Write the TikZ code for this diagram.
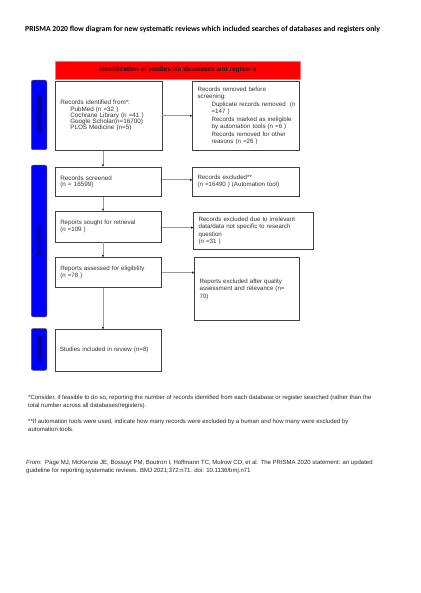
\documentclass[tikz,border=0pt]{standalone}
\usepackage{fontspec}
\setmainfont{Liberation Sans}
\newfontfamily\titlefont{Carlito}
\usetikzlibrary{arrows.meta}
\newcommand\indA[1]{\hspace*{10pt}\mbox{#1}}
\newcommand\indB[1]{\hspace*{14pt}\mbox{#1}}
\begin{document}
\begin{tikzpicture}[x=1pt,y=-1pt,
  box/.style={draw=black!75, line width=0.6pt, align=left, inner xsep=5pt, inner ysep=0pt,
    anchor=north west, font=\fontsize{6.15}{7.5}\selectfont, text=black!80},
  tightbox/.style={box, font=\fontsize{6.3}{6.25}\selectfont},
  bar/.style={draw=black!70, fill=blue, rounded corners=2pt, line width=0.5pt,
    anchor=north west, minimum width=15.7pt, inner sep=0pt},
  barlabel/.style={rotate=90, text=blue!25!black, font=\bfseries\fontsize{6.3}{7}\selectfont, inner sep=0pt},
  foot/.style={anchor=north west, align=left, inner sep=0pt, text=black!85,
    font=\fontsize{6.0}{7.7}\selectfont},
  arr/.style={draw=black!40, line width=0.8pt, -{Triangle[length=2.2pt,width=2.2pt,color=black!80]}}
]
\useasboundingbox[fill=white] (0,0) rectangle (420,593);

% title
\node[anchor=base west, inner sep=0pt, font=\titlefont\bfseries\fontsize{7.7}{8}\selectfont] (title) at (25,32)
  {PRISMA 2020 flow diagram for new systematic reviews which included searches of databases and registers only};

% header
\node[draw=red!55!white, fill=red, line width=0.6pt, anchor=north west, minimum width=245pt, minimum height=18.3pt,
  inner sep=0pt, text=black!90, font=\bfseries\fontsize{6.4}{7}\selectfont] (head) at (55,60.7)
  {Identification of studies via databases and registers};

% side bars
\node[bar, minimum height=69.5pt] (ibar) at (31,80) {};
\node[barlabel] (ilab) at (ibar.center) {Identification};
\node[bar, minimum height=151.7pt] (sbar) at (31,165) {};
\node[barlabel] (slab) at (sbar.center) {Screening};
\node[bar, minimum height=41.7pt] (nbar) at (31,328.3) {};
\node[barlabel] (nlab) at (nbar.center) {Included};

% boxes
\node[tightbox, minimum width=106.5pt, minimum height=69pt, text width=96.5pt] (ident) at (55,81)
  {Records identified from*:\\
   \indA{PubMed (n =32 )}\\
   \indA{Cochrane Library (n =41 )}\\
   \indA{Google Scholar(n=16700)}\\
   \indA{PLOS Medicine (n=5)}};
\node[box, minimum width=106.7pt, minimum height=69pt, text width=96.7pt] (removed) at (192.3,81)
  {Records removed before\\
   screening:\\
   \indB{Duplicate records removed~ (n}\\
   \indB{=147 )}\\
   \indB{Records marked as ineligible}\\
   \indB{by automation tools (n =6 )}\\
   \indB{Records removed for other}\\
   \indB{reasons (n =26 )}};

\node[tightbox, minimum width=106pt, minimum height=29.3pt, text width=96pt] (screened) at (55,166.7)
  {Records screened\\(n = 16599)};
\node[box, minimum width=106.7pt, minimum height=29.3pt, text width=96.7pt] (excluded) at (192.3,166.7)
  {Records excluded**\\(n =16490 ) (Automation tool)};

\node[box, minimum width=106pt, minimum height=30.7pt, text width=96pt] (sought) at (55,211)
  {Reports sought for retrieval\\(n =109 )};
\node[box, minimum width=119.4pt, minimum height=37pt, text width=109.4pt] (irrel) at (193.3,212.3)
  {Records excluded due to irrelevant\\data/data not specific to research\\question\\(n =31 )};

\node[box, minimum width=106pt, minimum height=30pt, text width=96pt] (assessed) at (55,257.3)
  {Reports assessed for eligibility\\(n =78 )};
\node[box, minimum width=105pt, minimum height=63pt, text width=95pt] (quality) at (194.3,257.3)
  {Reports excluded after quality\\assessment and relevance (n=\\70)};

\node[box, minimum width=106.2pt, minimum height=41.4pt, text width=96.2pt] (included) at (54.5,329.3)
  {Studies included in review (n=8)};

% connectors
\coordinate (ax) at (103,0);
\draw[arr] (ident.south -| ax) -- (screened.north -| ax);
\draw[arr] (screened.south -| ax) -- (sought.north -| ax);
\draw[arr] (sought.south -| ax) -- (assessed.north -| ax);
\draw[arr] (assessed.south -| ax) -- (included.north -| ax);
\draw[arr] (ident.east) -- (ident.east -| removed.west);
\draw[arr] ([yshift=1.8pt]screened.east) -- ([yshift=1.8pt]screened.east -| excluded.west);
\draw[arr] ([yshift=-1pt]sought.east) -- ([yshift=-1pt]sought.east -| irrel.west);
\draw[arr] (assessed.east) -- (assessed.east -| quality.west);

% footnotes
\node[foot] (fn1) at (28,395.4)
  {*Consider, if feasible to do so, reporting the number of records identified from each database or register searched (rather than the\\
   total number across all databases/registers).};
\node[foot] (fn2) at (28,418.8)
  {**If automation tools were used, indicate how many records were excluded by a human and how many were excluded by\\
   automation tools.};
\node[foot] (src) at (26,460.4)
  {\textit{From:}~~Page MJ, McKenzie JE, Bossuyt PM, Boutron I, Hoffmann TC, Mulrow CD, et al. The PRISMA 2020 statement: an updated\\
   guideline for reporting systematic reviews. BMJ 2021;372:n71. doi: 10.1136/bmj.n71};
\end{tikzpicture}
\end{document}
